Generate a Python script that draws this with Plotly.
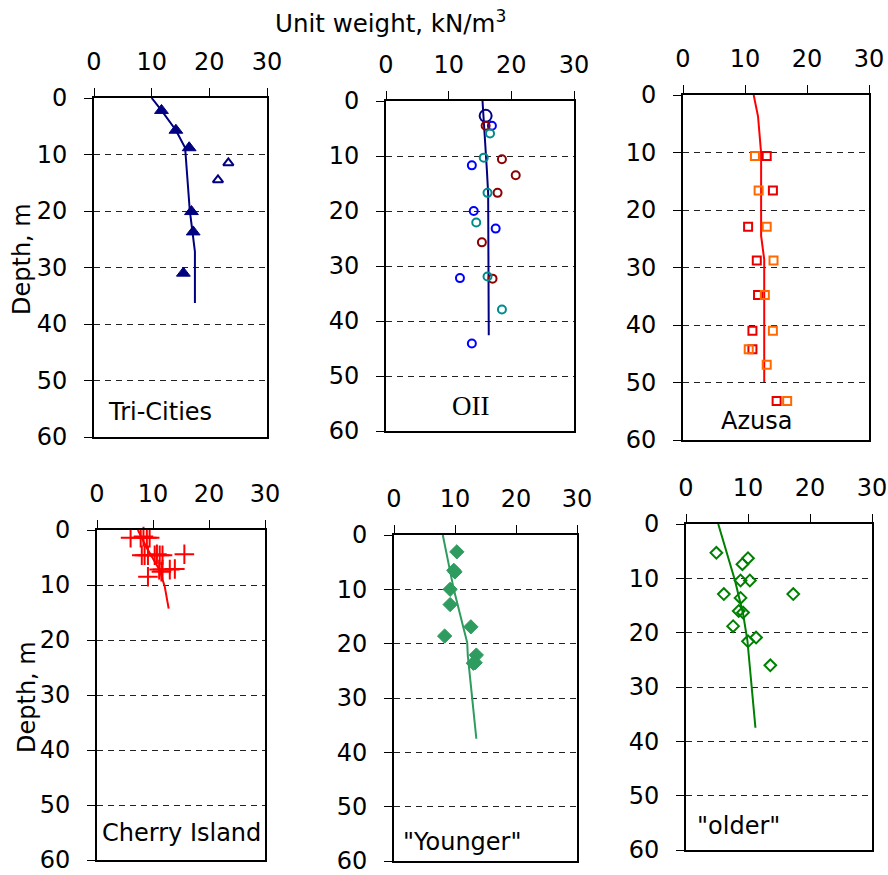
import plotly.graph_objects as go

W, H = 888, 875

# ---------------- data ----------------
# Tri-Cities
tri_line_x = [10.0, 11.7, 14.2, 15.8, 16.6, 17.0, 17.5, 17.5]
tri_line_y = [0.0, 2.2, 5.7, 8.8, 19.8, 23.4, 27.2, 36.3]
tri_fill_x = [11.7, 14.2, 16.5, 16.9, 17.2, 15.5]
tri_fill_y = [2.2, 5.7, 8.8, 20.1, 23.7, 31.0]
tri_open_x = [23.3, 21.5]
tri_open_y = [11.5, 14.5]

# OII
oii_line_x = [15.4, 15.8, 16.1, 16.3, 16.4, 16.4]
oii_line_y = [0.0, 6.5, 12.6, 16.8, 30.2, 42.6]
oii_big_x = [15.9]
oii_big_y = [2.7]
oii_blue_x = [16.9, 13.7, 14.0, 17.5, 11.8, 13.7]
oii_blue_y = [4.5, 11.7, 20.0, 23.2, 32.2, 44.1]
oii_red_x = [15.9, 18.5, 20.7, 17.8, 15.3, 17.0]
oii_red_y = [4.5, 10.6, 13.5, 16.7, 25.7, 32.3]
oii_teal_x = [16.6, 15.6, 16.2, 14.4, 16.2, 18.5]
oii_teal_y = [5.9, 10.3, 16.7, 22.1, 31.9, 37.9]

# Azusa
az_line_x = [11.4, 12.1, 12.6, 12.6, 13.1, 13.1]
az_line_y = [0.0, 3.7, 10.1, 24.5, 28.6, 49.9]
az_red_x = [13.5, 14.5, 10.5, 11.9, 12.1, 11.2, 11.2, 15.1]
az_red_y = [10.6, 16.6, 22.9, 28.8, 34.8, 41.0, 44.2, 53.2]
az_orange_x = [11.6, 12.2, 13.5, 14.6, 13.2, 14.5, 10.6, 13.5, 16.8]
az_orange_y = [10.6, 16.6, 22.9, 28.8, 34.8, 41.0, 44.2, 46.9, 53.2]

# Cherry Island
ci_line_x = [7.3, 8.8, 11.2, 12.1, 12.8]
ci_line_y = [0.0, 3.1, 7.3, 10.3, 14.3]
ci_pts_x = [6.0, 7.8, 8.3, 8.9, 9.4,
            8.0, 8.5, 9.1, 10.3, 10.7, 11.2, 11.7, 15.6,
            11.1, 11.7, 13.0, 13.9, 11.5, 9.1]
ci_pts_y = [1.4, 1.4, 1.2, 1.4, 1.4,
            4.6, 4.6, 4.6, 4.6, 4.4, 4.6, 4.6, 4.4,
            7.2, 7.2, 7.2, 7.1, 7.6, 8.5]

# "Younger"
yo_line_x = [8.0, 9.8, 11.3, 12.0, 12.1, 13.5]
yo_line_y = [0.0, 10.0, 16.7, 19.8, 22.2, 37.5]
yo_pts_x = [10.3, 9.8, 10.0, 9.2, 9.2, 12.6, 8.3, 13.5, 13.3, 13.0]
yo_pts_y = [3.1, 6.5, 6.8, 10.0, 12.8, 16.9, 18.6, 22.1, 23.5, 23.6]

# "older"
ol_line_x = [5.2, 7.9, 9.2, 9.9, 11.2]
ol_line_y = [0.0, 10.4, 16.5, 21.4, 37.5]
ol_pts_x = [4.9, 10.0, 9.1, 8.8, 10.3, 6.1, 17.3, 8.8, 8.5, 9.2, 7.6, 11.3, 10.0, 13.6]
ol_pts_y = [5.3, 6.3, 7.4, 10.4, 10.4, 12.9, 12.9, 13.6, 16.0, 16.3, 18.8, 20.9, 21.6, 26.0]

x_ticks = [0, 10, 20, 30]
y_ticks = [0, 10, 20, 30, 40, 50, 60]
panel_names = ["Tri-Cities", "OII", "Azusa", "Cherry Island", '"Younger"', '"older"']

# ---------------- layout geometry (pixels) ----------------
boxes = [  # left, right, top, bottom
    (94, 267, 98, 437),
    (386, 574, 101, 431),
    (683, 869, 95, 440),
    (97, 265, 530, 860),
    (394, 577, 535, 861),
    (686, 872, 524, 850),
]

FONT = "DejaVu Sans"
TICK = 24
fig = go.Figure()

def ax(i):
    return ("x" if i == 0 else f"x{i+1}"), ("y" if i == 0 else f"y{i+1}")

def add_line(i, xs, ys, color):
    xa, ya = ax(i)
    fig.add_trace(go.Scatter(x=xs, y=ys, mode="lines", line=dict(color=color, width=2),
                             xaxis=xa, yaxis=ya, showlegend=False, hoverinfo="skip"))

def add_pts(i, xs, ys, symbol, size, color, lw=2, fill=None):
    xa, ya = ax(i)
    mk = dict(symbol=symbol, size=size, color=fill if fill else color,
              line=dict(color=color, width=lw))
    fig.add_trace(go.Scatter(x=xs, y=ys, mode="markers", marker=mk,
                             xaxis=xa, yaxis=ya, showlegend=False, cliponaxis=False))

NAVY = "#000080"
add_line(0, tri_line_x, tri_line_y, NAVY)
add_pts(0, tri_fill_x, tri_fill_y, "triangle-up", 12, NAVY, lw=1, fill=NAVY)
add_pts(0, tri_open_x, tri_open_y, "triangle-up-open", 9, NAVY, lw=2)

add_line(1, oii_line_x, oii_line_y, NAVY)
add_pts(1, oii_big_x, oii_big_y, "circle-open", 12, NAVY, lw=2)
add_pts(1, oii_blue_x, oii_blue_y, "circle-open", 8, "#0000FF", lw=2)
add_pts(1, oii_red_x, oii_red_y, "circle-open", 8, "#8B0000", lw=2)
add_pts(1, oii_teal_x, oii_teal_y, "circle-open", 8, "#008B8B", lw=2)

add_line(2, az_line_x, az_line_y, "#FF0000")
add_pts(2, az_red_x, az_red_y, "square-open", 8, "#E80000", lw=2)
add_pts(2, az_orange_x, az_orange_y, "square-open", 8, "#FF6A00", lw=2)

add_line(3, ci_line_x, ci_line_y, "#FF0000")
add_pts(3, ci_pts_x, ci_pts_y, "cross-thin-open", 14, "#FF0000", lw=2)

GREEN2 = "#2E9B5F"
add_line(4, yo_line_x, yo_line_y, GREEN2)
add_pts(4, yo_pts_x, yo_pts_y, "diamond", 11, GREEN2, lw=1, fill=GREEN2)

GREEN = "#008000"
add_line(5, ol_line_x, ol_line_y, GREEN)
add_pts(5, ol_pts_x, ol_pts_y, "diamond-open", 9, GREEN, lw=2)

layout = dict(width=W, height=H, margin=dict(l=0, r=0, t=0, b=0, pad=0, autoexpand=False),
              paper_bgcolor="white", plot_bgcolor="white",
              font=dict(family=FONT, size=TICK, color="black"))

for i, (l, r, t, b) in enumerate(boxes):
    xk = "xaxis" if i == 0 else f"xaxis{i+1}"
    yk = "yaxis" if i == 0 else f"yaxis{i+1}"
    xa, ya = ax(i)
    layout[xk] = dict(domain=[l / W, r / W], anchor=ya, side="top", range=[0, 30],
                      tickvals=x_ticks, ticks="outside", ticklen=8, tickwidth=1, tickcolor="black",
                      showline=True, linecolor="black", linewidth=2, mirror=True,
                      showgrid=False, zeroline=False, ticklabelstandoff=8, automargin=False,
                      ticklabeloverflow="allow",
                      tickfont=dict(family=FONT, size=TICK))
    layout[yk] = dict(domain=[1 - b / H, 1 - t / H], anchor=xa, range=[60, 0],
                      tickvals=y_ticks, ticks="outside", ticklen=8, tickwidth=1, tickcolor="black",
                      showline=True, linecolor="black", linewidth=2, mirror=True,
                      showgrid=True, gridcolor="#222222", gridwidth=1, griddash="6px,5px",
                      zeroline=False, ticklabelstandoff=12, automargin=False,
                      ticklabeloverflow="allow",
                      tickfont=dict(family=FONT, size=TICK))

fig.update_layout(**layout)

def ann(text, px, py, xanchor="center", size=24, family=FONT, angle=0):
    fig.add_annotation(text=text, x=px / W, y=1 - py / H, xref="paper", yref="paper",
                       xanchor=xanchor, yanchor="middle", showarrow=False, textangle=angle,
                       font=dict(family=family, size=size, color="black"))

ann("Unit weight, kN/m<sup>3</sup>", 390, 22, size=24.5)
ann("Depth, m", 22, 259, angle=-90)
ann("Depth, m", 27, 697, angle=-90)

ann(panel_names[0], 106, 412, xanchor="left")
ann(panel_names[1], 471, 406, family="Liberation Serif", size=27)
ann(panel_names[2], 756, 421)
ann(panel_names[3], 100, 833, xanchor="left")
ann(panel_names[4], 401, 842, xanchor="left")
ann(panel_names[5], 695, 826, xanchor="left")

fig.write_html("out.html")
